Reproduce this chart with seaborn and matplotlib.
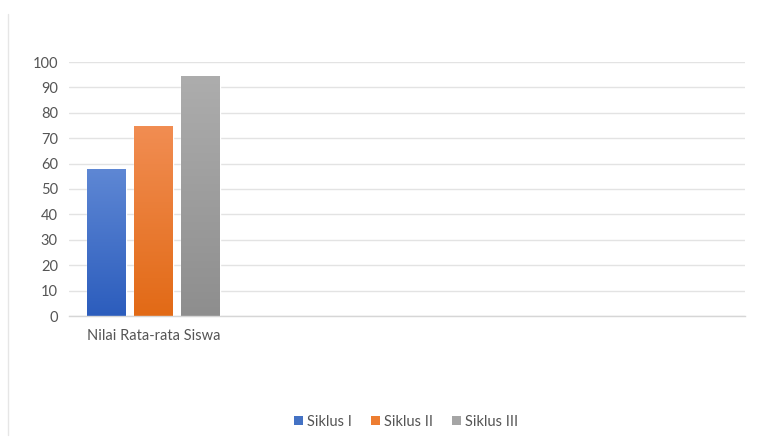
import matplotlib
matplotlib.use("Agg")
import matplotlib.pyplot as plt
import seaborn as sns
import pandas as pd
import numpy as np
from matplotlib.patches import Patch
from matplotlib.lines import Line2D

categories = ["Nilai Rata-rata Siswa"]
series = ["Siklus I", "Siklus II", "Siklus III"]
values = [57.8, 74.7, 94.6]
yticks = [0, 10, 20, 30, 40, 50, 60, 70, 80, 90, 100]

colors = ["#4472C4", "#ED7D31", "#A5A5A5"]
grad_top = ["#5e87d4", "#f18d52", "#adadad"]
grad_bot = ["#2c5dbd", "#e26a16", "#8e8e8e"]

df = pd.DataFrame({"Kategori": categories * len(series), "Siklus": series, "Nilai": values})

sns.set_theme(style="white")
plt.rcParams["font.family"] = ["Lato", "DejaVu Sans"]
text_color = "#555555"

fig = plt.figure(figsize=(7.71, 4.43), dpi=100)
ax = fig.add_axes([69 / 771, 1 - 316 / 443, (745 - 69) / 771, (316 - 62) / 443])

sns.barplot(data=df, x="Kategori", y="Nilai", hue="Siklus", hue_order=series,
            palette=colors, width=0.834, gap=0.19, ax=ax, legend=False,
            saturation=1)

# gradient fill
for i, patch in enumerate(ax.patches[:3]):
    x0, y0 = patch.get_x(), patch.get_y()
    w, h = patch.get_width(), patch.get_height()
    c1 = np.array(matplotlib.colors.to_rgb(grad_top[i]))
    c2 = np.array(matplotlib.colors.to_rgb(grad_bot[i]))
    t = np.linspace(0, 1, 100)[:, None]
    img = (c1 * (1 - t) + c2 * t)[:, None, :]
    im = ax.imshow(img, extent=[x0, x0 + w, y0, y0 + h], aspect="auto",
                   origin="upper", zorder=patch.get_zorder() + 0.1)
    im.set_clip_path(patch)

ax.set_xlim(-0.5, 3.5)
ax.set_ylim(0, 100)
ax.set_yticks(yticks)
ax.set_yticklabels([str(v) for v in yticks], fontsize=10.5, color=text_color)
ax.set_xticks([0])
ax.set_xticklabels(categories, fontsize=10.5, color=text_color)
ax.tick_params(axis="both", length=0)
ax.tick_params(axis="y", pad=8)
ax.tick_params(axis="x", pad=9)
ax.set_xlabel("")
ax.set_ylabel("")
ax.grid(axis="y", color="#e3e3e3", linewidth=1)
ax.set_axisbelow(True)
for s in ["top", "right", "left"]:
    ax.spines[s].set_visible(False)
ax.spines["bottom"].set_color("#d6d6d6")
ax.spines["bottom"].set_linewidth(1)

handles = [Patch(facecolor=c, edgecolor="none") for c in colors]
fig.legend(handles, series, loc="center", bbox_to_anchor=(406 / 771, 1 - 422 / 443),
           ncol=3, frameon=False, fontsize=10.5, handlelength=0.6, handleheight=0.6,
           handletextpad=0.3, columnspacing=1.3, labelcolor=text_color)

fig.add_artist(Line2D([8 / 771, 8 / 771], [1 - 14 / 443, 1 - 435 / 443],
                      transform=fig.transFigure, color="#e6e6e6", linewidth=1))

fig.savefig("out.png", dpi=100, facecolor="white")
